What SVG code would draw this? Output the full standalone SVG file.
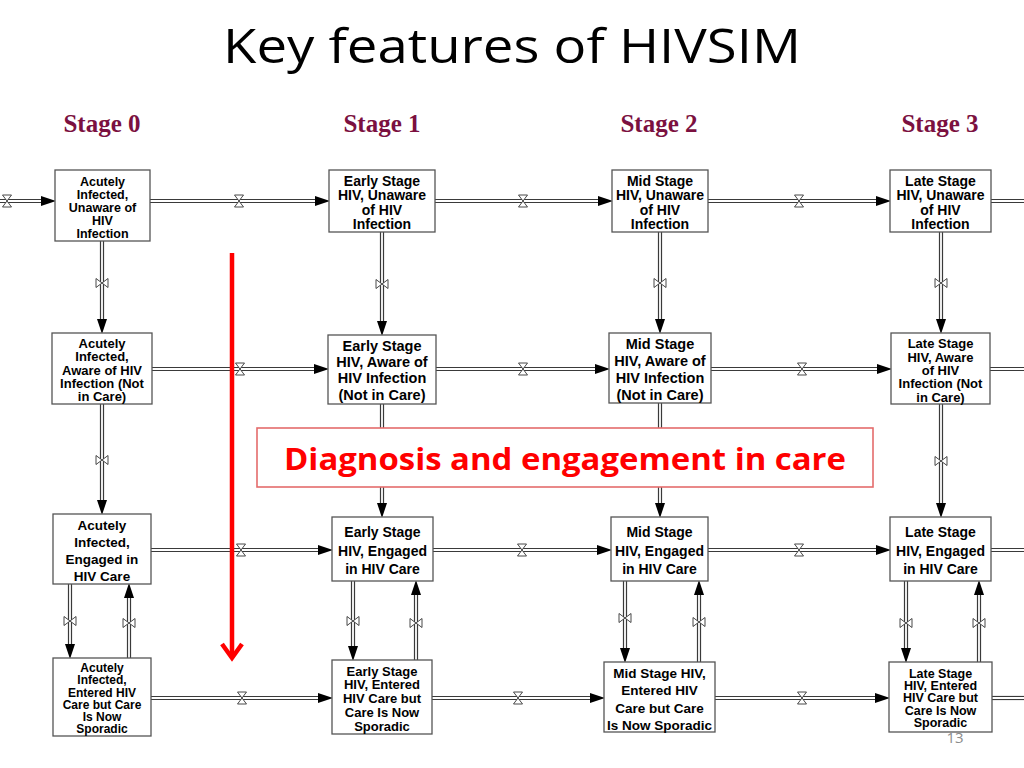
<svg xmlns="http://www.w3.org/2000/svg" xmlns:xlink="http://www.w3.org/1999/xlink" width="1024" height="768" viewBox="0 0 1024 768">
<style>
.title{font-family:"Open Sans","Liberation Sans",sans-serif;font-size:48px;fill:#000}
.stage{font-family:"Liberation Serif",serif;font-weight:bold;font-size:25px;fill:#7b1040}
.box{fill:#fff;stroke:#555;stroke-width:1.3}
.bt{font-family:"Liberation Sans",sans-serif;font-weight:bold;fill:#000;text-anchor:middle}
.s12{font-size:12px}.s125{font-size:12.5px}.s13{font-size:13px}.s135{font-size:13.5px}.s14{font-size:14px}.s145{font-size:14.5px}
.po{fill:none;stroke:#3a3a3a;stroke-width:4.2}
.pi{fill:none;stroke:#fff;stroke-width:1.8}
.valve{fill:#fff;stroke:#333;stroke-width:0.9}
.call{fill:#fff;stroke:#e46c6c;stroke-width:1.6}
.callt{font-family:"Open Sans","Liberation Sans",sans-serif;font-weight:bold;font-size:31px;fill:#ff0000}
.red{fill:none;stroke:#ff0000;stroke-width:4.5}
.pg{font-family:"Open Sans","Liberation Sans",sans-serif;font-size:15px;fill:#8c8c8c;text-anchor:middle}
</style>
<defs>
<marker id="ah" markerUnits="userSpaceOnUse" markerWidth="16" markerHeight="12" refX="0" refY="5" orient="auto">
<path d="M0,0 L15,5 L0,10 Z" fill="#000"/>
</marker>
<g id="vh"><path class="valve" d="M-4.5,-6 L4.5,-6 L0,0 Z M-4.5,6 L4.5,6 L0,0 Z"/></g>
<g id="vv"><path class="valve" d="M-6,-4.5 L-6,4.5 L0,0 Z M6,-4.5 L6,4.5 L0,0 Z"/></g>
</defs>
<rect width="1024" height="768" fill="#fff"/>
<text class="pg" x="955" y="743">13</text>
<text class="title" x="512" y="63" text-anchor="middle" textLength="578" lengthAdjust="spacingAndGlyphs">Key features of HIVSIM</text>
<g id="stages">
<text class="stage" x="102" y="132" text-anchor="middle">Stage 0</text>
<text class="stage" x="382" y="132" text-anchor="middle">Stage 1</text>
<text class="stage" x="659" y="132" text-anchor="middle">Stage 2</text>
<text class="stage" x="940" y="132" text-anchor="middle">Stage 3</text>
</g>
<g id="connectors">
<g class="outer">
<path class="po" marker-end="url(#ah)" d="M0,201 H41"/>
<path class="po" marker-end="url(#ah)" d="M150,201 H315"/>
<path class="po" marker-end="url(#ah)" d="M435,201 H598"/>
<path class="po" marker-end="url(#ah)" d="M708,201 H876"/>
<path class="po" d="M991,201 H1024"/>
<path class="po" marker-end="url(#ah)" d="M152,369 H314"/>
<path class="po" marker-end="url(#ah)" d="M436,369 H595"/>
<path class="po" marker-end="url(#ah)" d="M711,369 H877"/>
<path class="po" d="M990,369 H1024"/>
<path class="po" marker-end="url(#ah)" d="M151,550 H318"/>
<path class="po" marker-end="url(#ah)" d="M433,550 H597"/>
<path class="po" marker-end="url(#ah)" d="M708,550 H876"/>
<path class="po" d="M991,550 H1024"/>
<path class="po" marker-end="url(#ah)" d="M151,698 H318"/>
<path class="po" marker-end="url(#ah)" d="M432,698 H590"/>
<path class="po" marker-end="url(#ah)" d="M715,698 H875"/>
<path class="po" d="M992,698 H1024"/>
<path class="po" marker-end="url(#ah)" d="M102,241 V319"/>
<path class="po" marker-end="url(#ah)" d="M102,404 V500"/>
<path class="po" marker-end="url(#ah)" d="M70,584 V644"/>
<path class="po" marker-end="url(#ah)" d="M129,658 V598"/>
<path class="po" marker-end="url(#ah)" d="M382,232 V321"/>
<path class="po" marker-end="url(#ah)" d="M382,404 V503"/>
<path class="po" marker-end="url(#ah)" d="M353,581 V646"/>
<path class="po" marker-end="url(#ah)" d="M416,660 V595"/>
<path class="po" marker-end="url(#ah)" d="M660,232 V319"/>
<path class="po" marker-end="url(#ah)" d="M660,403 V503"/>
<path class="po" marker-end="url(#ah)" d="M625,581 V648"/>
<path class="po" marker-end="url(#ah)" d="M699,662 V595"/>
<path class="po" marker-end="url(#ah)" d="M941,232 V319"/>
<path class="po" marker-end="url(#ah)" d="M941,404 V503"/>
<path class="po" marker-end="url(#ah)" d="M906,581 V648"/>
<path class="po" marker-end="url(#ah)" d="M979,662 V595"/>
</g>
<g class="inner">
<path class="pi" d="M0,201 H41 M150,201 H315 M435,201 H598 M708,201 H876 M991,201 H1024"/>
<path class="pi" d="M152,369 H314 M436,369 H595 M711,369 H877 M990,369 H1024"/>
<path class="pi" d="M151,550 H318 M433,550 H597 M708,550 H876 M991,550 H1024"/>
<path class="pi" d="M151,698 H318 M432,698 H590 M715,698 H875 M992,698 H1024"/>
<path class="pi" d="M102,241 V319 M102,404 V500 M70,584 V644 M129,658 V598"/>
<path class="pi" d="M382,232 V321 M382,404 V503 M353,581 V646 M416,660 V595"/>
<path class="pi" d="M660,232 V319 M660,403 V503 M625,581 V648 M699,662 V595"/>
<path class="pi" d="M941,232 V319 M941,404 V503 M906,581 V648 M979,662 V595"/>
</g>
<g class="valves">
<use xlink:href="#vh" x="7" y="201"/>
<use xlink:href="#vh" x="239" y="201"/>
<use xlink:href="#vh" x="523" y="201"/>
<use xlink:href="#vh" x="799" y="201"/>
<use xlink:href="#vh" x="240" y="369"/>
<use xlink:href="#vh" x="523" y="369"/>
<use xlink:href="#vh" x="802" y="369"/>
<use xlink:href="#vh" x="241" y="550"/>
<use xlink:href="#vh" x="522" y="550"/>
<use xlink:href="#vh" x="799" y="550"/>
<use xlink:href="#vh" x="242" y="698"/>
<use xlink:href="#vh" x="518" y="698"/>
<use xlink:href="#vh" x="802" y="698"/>
<use xlink:href="#vv" x="102" y="283"/>
<use xlink:href="#vv" x="102" y="460"/>
<use xlink:href="#vv" x="70" y="621"/>
<use xlink:href="#vv" x="129" y="623"/>
<use xlink:href="#vv" x="382" y="284"/>
<use xlink:href="#vv" x="353" y="621"/>
<use xlink:href="#vv" x="416" y="623"/>
<use xlink:href="#vv" x="660" y="283"/>
<use xlink:href="#vv" x="625" y="618"/>
<use xlink:href="#vv" x="699" y="622"/>
<use xlink:href="#vv" x="941" y="283"/>
<use xlink:href="#vv" x="941" y="461"/>
<use xlink:href="#vv" x="906" y="623"/>
<use xlink:href="#vv" x="979" y="623"/>
</g>
</g>
<g id="A1"><rect class="box" x="55" y="170" width="95" height="71"/>
<text class="bt s125"><tspan x="102.5" y="186">Acutely</tspan><tspan x="102.5" y="199">Infected,</tspan><tspan x="102.5" y="212">Unaware of</tspan><tspan x="102.5" y="225">HIV</tspan><tspan x="102.5" y="238">Infection</tspan></text></g>
<g id="E1"><rect class="box" x="329" y="170" width="106" height="62"/>
<text class="bt s14"><tspan x="382" y="186">Early Stage</tspan><tspan x="382" y="200">HIV, Unaware</tspan><tspan x="382" y="215">of HIV</tspan><tspan x="382" y="229">Infection</tspan></text></g>
<g id="M1"><rect class="box" x="612" y="170" width="96" height="62"/>
<text class="bt s14"><tspan x="660" y="186">Mid Stage</tspan><tspan x="660" y="200">HIV, Unaware</tspan><tspan x="660" y="215">of HIV</tspan><tspan x="660" y="229">Infection</tspan></text></g>
<g id="L1"><rect class="box" x="890" y="170" width="101" height="62"/>
<text class="bt s14"><tspan x="940.5" y="186">Late Stage</tspan><tspan x="940.5" y="200">HIV, Unaware</tspan><tspan x="940.5" y="215">of HIV</tspan><tspan x="940.5" y="229">Infection</tspan></text></g>
<g id="A2"><rect class="box" x="52" y="333" width="100" height="71"/>
<text class="bt s13"><tspan x="102" y="348">Acutely</tspan><tspan x="102" y="361">Infected,</tspan><tspan x="102" y="374.5">Aware of HIV</tspan><tspan x="102" y="387.5">Infection (Not</tspan><tspan x="102" y="401">in Care)</tspan></text></g>
<g id="E2"><rect class="box" x="328" y="335" width="108" height="69"/>
<text class="bt s145"><tspan x="382" y="351">Early Stage</tspan><tspan x="382" y="366.5">HIV, Aware of</tspan><tspan x="382" y="383">HIV Infection</tspan><tspan x="382" y="399.5">(Not in Care)</tspan></text></g>
<g id="M2"><rect class="box" x="609" y="333" width="102" height="70"/>
<text class="bt s145"><tspan x="660" y="349">Mid Stage</tspan><tspan x="660" y="366">HIV, Aware of</tspan><tspan x="660" y="383">HIV Infection</tspan><tspan x="660" y="400">(Not in Care)</tspan></text></g>
<g id="L2"><rect class="box" x="891" y="333" width="99" height="71"/>
<text class="bt s13"><tspan x="940.5" y="348">Late Stage</tspan><tspan x="940.5" y="361.5">HIV, Aware</tspan><tspan x="940.5" y="374.5">of HIV</tspan><tspan x="940.5" y="388">Infection (Not</tspan><tspan x="940.5" y="401.5">in Care)</tspan></text></g>
<g id="callout"><rect class="call" x="257" y="428" width="616" height="59"/>
<text class="callt" x="565" y="470" text-anchor="middle" textLength="562" lengthAdjust="spacingAndGlyphs">Diagnosis and engagement in care</text></g>
<g id="A3"><rect class="box" x="53" y="514" width="98" height="70"/>
<text class="bt s135"><tspan x="102" y="530">Acutely</tspan><tspan x="102" y="547">Infected,</tspan><tspan x="102" y="564">Engaged in</tspan><tspan x="102" y="581">HIV Care</tspan></text></g>
<g id="E3"><rect class="box" x="332" y="517" width="101" height="64"/>
<text class="bt s14"><tspan x="382.5" y="537">Early Stage</tspan><tspan x="382.5" y="556">HIV, Engaged</tspan><tspan x="382.5" y="574">in HIV Care</tspan></text></g>
<g id="M3"><rect class="box" x="611" y="517" width="97" height="64"/>
<text class="bt s14"><tspan x="659.5" y="537">Mid Stage</tspan><tspan x="659.5" y="556">HIV, Engaged</tspan><tspan x="659.5" y="574">in HIV Care</tspan></text></g>
<g id="L3"><rect class="box" x="890" y="517" width="101" height="64"/>
<text class="bt s14"><tspan x="940.5" y="537">Late Stage</tspan><tspan x="940.5" y="556">HIV, Engaged</tspan><tspan x="940.5" y="574">in HIV Care</tspan></text></g>
<g id="A4"><rect class="box" x="53" y="658" width="98" height="78"/>
<text class="bt s12"><tspan x="102" y="672">Acutely</tspan><tspan x="102" y="684">Infected,</tspan><tspan x="102" y="696.5">Entered HIV</tspan><tspan x="102" y="708.5">Care but Care</tspan><tspan x="102" y="720.5">Is Now</tspan><tspan x="102" y="732.5">Sporadic</tspan></text></g>
<g id="E4"><rect class="box" x="332" y="660" width="100" height="74"/>
<text class="bt s13"><tspan x="382" y="675.5">Early Stage</tspan><tspan x="382" y="688.5">HIV, Entered</tspan><tspan x="382" y="702.5">HIV Care but</tspan><tspan x="382" y="716.5">Care Is Now</tspan><tspan x="382" y="731">Sporadic</tspan></text></g>
<g id="M4"><rect class="box" x="604" y="662" width="111" height="70"/>
<text class="bt s135"><tspan x="659.5" y="678">Mid Stage HIV,</tspan><tspan x="659.5" y="695">Entered HIV</tspan><tspan x="659.5" y="713">Care but Care</tspan><tspan x="659.5" y="730">Is Now Sporadic</tspan></text></g>
<g id="L4"><rect class="box" x="889" y="662" width="103" height="70"/>
<text class="bt s125"><tspan x="940.5" y="677.5">Late Stage</tspan><tspan x="940.5" y="689.5">HIV, Entered</tspan><tspan x="940.5" y="702">HIV Care but</tspan><tspan x="940.5" y="714.5">Care Is Now</tspan><tspan x="940.5" y="727">Sporadic</tspan></text></g>
<g id="red-arrow">
<path class="red" d="M232,253 V657"/>
<path class="red" d="M222,644 L232,658 L242,644" stroke-linejoin="miter"/>
</g>
</svg>
